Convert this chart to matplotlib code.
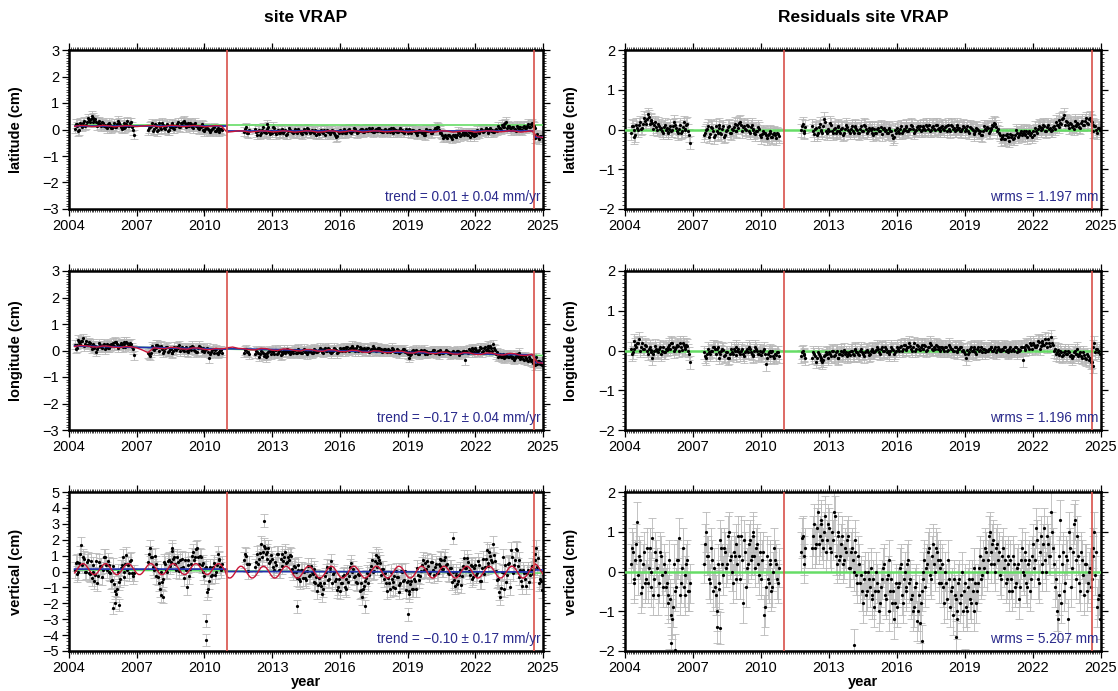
import numpy as np
import matplotlib
matplotlib.use("Agg")
import matplotlib.pyplot as plt
from matplotlib.ticker import MultipleLocator

nan = np.nan
plt.rcParams['font.family'] = ['Liberation Sans', 'DejaVu Sans']

# ---------------- data: two samples per month, one row per year 2004..2024, cm ----------------
lat_data = [
    [nan, nan, nan, 0.22, 0.12, -0.02, 0.18, 0.25, 0.15, 0.28, 0.35, 0.40],
    [0.45, 0.35, 0.30, 0.25, 0.20, 0.28, 0.15, 0.10, 0.20, 0.12, 0.05, 0.15],
    [0.10, 0.22, 0.25, 0.08, 0.15, 0.05, 0.20, 0.12, 0.25, 0.10, -0.20, nan],
    [nan, nan, nan, nan, nan, nan, 0.05, 0.15, -0.05, 0.20, 0.10, 0.00],
    [0.10, 0.25, 0.05, 0.15, -0.05, 0.10, 0.20, 0.05, 0.15, 0.20, 0.10, 0.25],
    [0.30, 0.25, 0.20, 0.15, 0.25, 0.10, 0.20, 0.15, 0.05, 0.10, 0.20, 0.00],
    [0.02, 0.05, -0.02, 0.00, 0.05, -0.05, 0.02, 0.00, 0.03, -0.03, nan, nan],
    [nan, nan, nan, nan, nan, nan, nan, nan, nan, 0.02, -0.12, 0.00],
    [nan, nan, nan, -0.10, -0.05, -0.20, 0.00, -0.10, -0.15, 0.20, -0.10, -0.05],
    [0.10, -0.10, -0.05, -0.15, 0.00, -0.10, -0.05, -0.20, -0.05, 0.00, -0.10, -0.05],
    [-0.10, 0.00, -0.05, -0.15, -0.05, -0.10, 0.05, -0.05, -0.10, -0.05, -0.15, -0.20],
    [-0.15, -0.05, -0.10, 0.00, -0.05, -0.10, -0.15, -0.05, -0.10, -0.20, -0.25, -0.15],
    [-0.10, -0.05, -0.15, -0.05, 0.00, -0.10, -0.05, 0.05, -0.05, -0.10, 0.00, -0.05],
    [-0.10, 0.00, -0.05, 0.05, -0.05, -0.10, 0.00, -0.05, 0.05, -0.05, -0.10, 0.00],
    [-0.05, 0.00, -0.10, -0.05, 0.05, -0.05, -0.10, 0.00, -0.05, -0.10, -0.05, 0.00],
    [-0.05, -0.10, 0.00, -0.05, -0.15, -0.10, -0.05, -0.15, -0.20, -0.10, -0.05, 0.00],
    [-0.15, -0.05, 0.05, 0.10, 0.00, -0.05, -0.20, -0.25, -0.30, -0.20, -0.25, -0.35],
    [-0.25, -0.30, -0.20, -0.15, -0.20, -0.10, -0.15, -0.20, -0.10, -0.15, -0.20, -0.25],
    [-0.20, -0.10, -0.05, 0.00, -0.05, 0.05, -0.10, 0.00, -0.05, -0.10, 0.00, -0.05],
    [0.05, 0.00, 0.10, 0.20, 0.30, 0.15, 0.05, 0.10, 0.00, -0.05, 0.05, 0.10],
    [0.00, 0.10, 0.05, 0.15, 0.10, 0.20, 0.15, 0.05, -0.20, -0.30, -0.25, -0.30],
]
lat_data_b = [
    [nan, nan, nan, 0.03, 0.21, -0.07, 0.25, 0.11, 0.31, 0.18, 0.43, 0.28],
    [0.51, 0.28, 0.38, 0.15, 0.31, 0.13, 0.23, 0.18, 0.05, 0.25, 0.16, 0.07],
    [0.23, 0.11, 0.33, 0.18, 0.03, 0.25, 0.08, 0.31, 0.15, 0.28, -0.02, nan],
    [nan, nan, nan, nan, nan, nan, -0.02, 0.11, 0.23, 0.01, 0.18, -0.07],
    [0.23, 0.03, 0.18, 0.01, 0.21, -0.02, 0.11, 0.23, 0.03, 0.13, 0.28, 0.08],
    [0.18, 0.33, 0.08, 0.23, 0.13, 0.21, 0.05, 0.25, 0.13, 0.01, 0.08, 0.15],
    [-0.07, 0.08, 0.03, -0.09, 0.01, 0.08, -0.07, 0.05, -0.09, 0.01, nan, nan],
    [nan, nan, nan, nan, nan, nan, nan, nan, nan, -0.09, 0.08, -0.15],
    [nan, nan, nan, 0.03, -0.19, -0.02, -0.15, 0.08, -0.07, 0.03, 0.11, -0.17],
    [-0.12, 0.05, -0.17, -0.02, -0.12, 0.03, -0.15, -0.02, -0.17, 0.05, -0.07, -0.15],
    [0.01, -0.15, 0.03, -0.07, -0.17, 0.01, -0.12, 0.03, -0.15, -0.02, -0.09, -0.02],
    [-0.05, -0.17, -0.02, -0.12, -0.19, -0.02, -0.07, -0.17, -0.02, -0.12, -0.29, -0.07],
    [-0.02, -0.15, 0.01, -0.12, -0.07, 0.03, -0.12, -0.05, 0.03, -0.15, -0.07, 0.01],
    [0.01, -0.09, 0.03, -0.07, 0.01, 0.05, -0.09, 0.03, -0.07, 0.05, -0.02, -0.09],
    [0.03, -0.09, 0.01, 0.05, -0.12, 0.03, -0.02, -0.09, 0.05, -0.02, -0.12, 0.03],
    [-0.12, 0.01, -0.15, -0.02, -0.07, -0.19, -0.02, -0.09, -0.12, -0.22, 0.01, -0.07],
    [-0.02, -0.12, -0.02, 0.01, 0.08, -0.12, -0.15, -0.32, -0.22, -0.32, -0.19, -0.27],
    [-0.19, -0.22, -0.29, -0.09, -0.25, -0.17, -0.22, -0.12, -0.19, -0.27, -0.12, -0.17],
    [-0.12, -0.02, -0.15, 0.03, -0.09, -0.02, 0.03, -0.12, 0.05, -0.02, -0.09, 0.03],
    [0.13, 0.05, 0.18, 0.08, 0.23, 0.05, 0.13, -0.02, 0.08, 0.03, 0.15, 0.01],
    [0.08, -0.02, 0.15, 0.05, 0.21, 0.08, 0.23, 0.13, -0.33, -0.18, -0.36, -0.23],
]
lat_res = [
    [nan, nan, nan, 0.09, -0.01, -0.15, 0.05, 0.12, 0.02, 0.15, 0.22, 0.27],
    [0.32, 0.22, 0.17, 0.12, 0.07, 0.15, 0.02, -0.03, 0.07, -0.01, -0.08, 0.02],
    [-0.03, 0.09, 0.12, -0.05, 0.02, -0.08, 0.07, -0.01, 0.12, -0.03, -0.33, nan],
    [nan, nan, nan, nan, nan, nan, -0.08, 0.02, -0.18, 0.07, -0.03, -0.13],
    [-0.03, 0.12, -0.08, 0.02, -0.18, -0.03, 0.07, -0.08, 0.02, 0.07, -0.03, 0.12],
    [0.17, 0.12, 0.07, 0.02, 0.12, -0.03, 0.07, 0.02, -0.08, -0.03, 0.07, -0.13],
    [-0.11, -0.08, -0.15, -0.13, -0.08, -0.18, -0.11, -0.13, -0.10, -0.16, nan, nan],
    [nan, nan, nan, nan, nan, nan, nan, nan, nan, 0.09, -0.05, 0.07],
    [nan, nan, nan, -0.03, 0.02, -0.13, 0.07, -0.03, -0.08, 0.27, -0.03, 0.02],
    [0.17, -0.03, 0.02, -0.08, 0.07, -0.03, 0.02, -0.13, 0.02, 0.07, -0.03, 0.02],
    [-0.03, 0.07, 0.02, -0.08, 0.02, -0.03, 0.12, 0.02, -0.03, 0.02, -0.08, -0.13],
    [-0.08, 0.02, -0.03, 0.07, 0.02, -0.03, -0.08, 0.02, -0.03, -0.13, -0.18, -0.08],
    [-0.03, 0.02, -0.08, 0.02, 0.07, -0.03, 0.02, 0.12, 0.02, -0.03, 0.07, 0.02],
    [-0.03, 0.07, 0.02, 0.12, 0.02, -0.03, 0.07, 0.02, 0.12, 0.02, -0.03, 0.07],
    [0.02, 0.07, -0.03, 0.02, 0.12, 0.02, -0.03, 0.07, 0.02, -0.03, 0.02, 0.07],
    [0.02, -0.03, 0.07, 0.02, -0.08, -0.03, 0.02, -0.08, -0.13, -0.03, 0.02, 0.07],
    [-0.08, 0.02, 0.12, 0.17, 0.07, 0.02, -0.13, -0.18, -0.23, -0.13, -0.18, -0.28],
    [-0.18, -0.23, -0.13, -0.08, -0.13, -0.03, -0.08, -0.13, -0.03, -0.08, -0.13, -0.18],
    [-0.13, -0.03, 0.02, 0.07, 0.02, 0.12, -0.03, 0.07, 0.02, -0.03, 0.07, 0.02],
    [0.12, 0.07, 0.17, 0.27, 0.37, 0.22, 0.12, 0.17, 0.07, 0.02, 0.12, 0.17],
    [0.07, 0.17, 0.12, 0.22, 0.17, 0.27, 0.22, 0.12, 0.08, -0.02, 0.03, -0.02],
]
lat_res_b = [
    [nan, nan, nan, -0.10, 0.08, -0.20, 0.12, -0.02, 0.18, 0.05, 0.30, 0.15],
    [0.38, 0.15, 0.25, 0.02, 0.18, 0.00, 0.10, 0.05, -0.08, 0.12, 0.03, -0.06],
    [0.10, -0.02, 0.20, 0.05, -0.10, 0.12, -0.05, 0.18, 0.02, 0.15, -0.15, nan],
    [nan, nan, nan, nan, nan, nan, -0.15, -0.02, 0.10, -0.12, 0.05, -0.20],
    [0.10, -0.10, 0.05, -0.12, 0.08, -0.15, -0.02, 0.10, -0.10, 0.00, 0.15, -0.05],
    [0.05, 0.20, -0.05, 0.10, 0.00, 0.08, -0.08, 0.12, 0.00, -0.12, -0.05, 0.02],
    [-0.20, -0.05, -0.10, -0.22, -0.12, -0.05, -0.20, -0.08, -0.22, -0.12, nan, nan],
    [nan, nan, nan, nan, nan, nan, nan, nan, nan, -0.02, 0.15, -0.08],
    [nan, nan, nan, 0.10, -0.12, 0.05, -0.08, 0.15, 0.00, 0.10, 0.18, -0.10],
    [-0.05, 0.12, -0.10, 0.05, -0.05, 0.10, -0.08, 0.05, -0.10, 0.12, 0.00, -0.08],
    [0.08, -0.08, 0.10, 0.00, -0.10, 0.08, -0.05, 0.10, -0.08, 0.05, -0.02, 0.05],
    [0.02, -0.10, 0.05, -0.05, -0.12, 0.05, 0.00, -0.10, 0.05, -0.05, -0.22, 0.00],
    [0.05, -0.08, 0.08, -0.05, 0.00, 0.10, -0.05, 0.02, 0.10, -0.08, 0.00, 0.08],
    [0.08, -0.02, 0.10, 0.00, 0.08, 0.12, -0.02, 0.10, 0.00, 0.12, 0.05, -0.02],
    [0.10, -0.02, 0.08, 0.12, -0.05, 0.10, 0.05, -0.02, 0.12, 0.05, -0.05, 0.10],
    [-0.05, 0.08, -0.08, 0.05, 0.00, -0.12, 0.05, -0.02, -0.05, -0.15, 0.08, 0.00],
    [0.05, -0.05, 0.05, 0.08, 0.15, -0.05, -0.08, -0.25, -0.15, -0.25, -0.12, -0.20],
    [-0.12, -0.15, -0.22, -0.02, -0.18, -0.10, -0.15, -0.05, -0.12, -0.20, -0.05, -0.10],
    [-0.05, 0.05, -0.08, 0.10, -0.02, 0.05, 0.10, -0.05, 0.12, 0.05, -0.02, 0.10],
    [0.20, 0.12, 0.25, 0.15, 0.30, 0.12, 0.20, 0.05, 0.15, 0.10, 0.22, 0.08],
    [0.15, 0.05, 0.22, 0.12, 0.28, 0.15, 0.30, 0.20, -0.05, 0.10, -0.08, 0.05],
]
lon_data = [
    [nan, nan, nan, 0.06, 0.21, 0.31, 0.36, 0.46, 0.26, 0.21, 0.31, 0.16],
    [0.20, 0.10, -0.05, 0.15, 0.20, 0.10, 0.25, 0.15, 0.10, 0.20, 0.25, 0.30],
    [0.33, 0.23, 0.18, 0.28, 0.13, 0.23, 0.33, 0.18, 0.28, 0.13, -0.17, nan],
    [nan, nan, nan, nan, nan, nan, -0.14, -0.09, 0.06, 0.11, 0.21, 0.16],
    [0.15, 0.05, 0.00, 0.15, -0.05, 0.05, -0.10, 0.00, 0.05, 0.15, 0.20, 0.10],
    [0.03, 0.08, -0.02, 0.03, 0.13, 0.18, 0.03, -0.07, 0.08, 0.13, -0.02, 0.08],
    [0.01, 0.11, -0.29, -0.04, 0.06, 0.01, -0.09, -0.04, 0.01, -0.09, nan, nan],
    [nan, nan, nan, nan, nan, nan, nan, nan, nan, 0.01, -0.04, -0.14],
    [nan, nan, nan, 0.00, -0.10, -0.15, -0.05, -0.20, -0.25, -0.10, 0.00, -0.15],
    [-0.07, 0.03, -0.12, -0.02, -0.17, -0.07, 0.03, -0.02, -0.07, -0.12, -0.02, 0.03],
    [-0.09, 0.06, -0.04, -0.09, 0.01, -0.04, -0.14, 0.01, -0.04, -0.09, 0.06, -0.04],
    [0.00, 0.10, -0.05, 0.05, 0.00, 0.10, -0.05, -0.10, 0.00, 0.05, -0.10, 0.00],
    [0.03, 0.08, -0.02, 0.13, 0.03, 0.08, 0.18, 0.03, 0.08, -0.02, 0.13, 0.03],
    [0.06, 0.01, 0.11, -0.04, 0.06, 0.16, 0.01, 0.06, 0.11, 0.01, -0.04, 0.06],
    [0.00, 0.05, -0.05, 0.10, 0.00, -0.05, 0.05, -0.10, 0.00, 0.05, -0.05, -0.10],
    [-0.27, -0.17, -0.02, -0.07, 0.03, -0.12, -0.02, -0.07, 0.03, -0.02, -0.12, -0.07],
    [-0.04, 0.01, -0.09, -0.04, -0.14, 0.01, -0.09, -0.04, 0.01, -0.09, -0.14, -0.04],
    [-0.11, -0.06, -0.01, -0.16, -0.11, -0.01, -0.36, -0.06, 0.04, -0.01, 0.09, -0.06],
    [0.03, -0.02, 0.13, -0.07, 0.08, 0.03, 0.18, -0.02, 0.08, 0.23, 0.03, -0.07],
    [-0.19, -0.24, -0.14, -0.29, -0.19, -0.24, -0.14, -0.29, -0.34, -0.19, -0.24, -0.09],
    [-0.26, -0.31, -0.21, -0.36, -0.26, -0.41, -0.46, -0.56, -0.25, -0.40, -0.50, -0.55],
]
lon_data_b = [
    [nan, nan, nan, 0.21, 0.11, 0.41, 0.26, 0.34, 0.16, 0.36, 0.21, 0.28],
    [0.07, 0.25, 0.17, 0.05, 0.27, 0.13, 0.20, 0.05, 0.23, 0.10, 0.17, 0.20],
    [0.18, 0.31, 0.11, 0.21, 0.25, 0.33, 0.15, 0.28, 0.21, 0.25, 0.05, nan],
    [nan, nan, nan, nan, nan, nan, -0.10, -0.20, 0.16, 0.01, 0.09, 0.21],
    [0.00, 0.18, -0.08, 0.08, 0.12, -0.02, 0.05, -0.08, 0.15, 0.02, 0.10, -0.02],
    [0.13, -0.02, 0.13, -0.07, 0.06, 0.03, 0.13, 0.00, -0.04, 0.18, 0.08, 0.00],
    [-0.06, 0.04, -0.04, -0.12, 0.01, -0.09, 0.04, -0.12, -0.06, 0.01, nan, nan],
    [nan, nan, nan, nan, nan, nan, nan, nan, nan, -0.09, 0.04, -0.06],
    [nan, nan, nan, -0.13, -0.05, -0.23, 0.00, -0.10, -0.15, -0.20, -0.07, -0.03],
    [-0.02, -0.12, 0.01, -0.09, 0.03, -0.15, -0.05, -0.09, 0.05, -0.02, -0.07, -0.09],
    [0.01, -0.11, 0.03, -0.04, -0.11, 0.06, -0.07, -0.04, 0.03, -0.11, -0.01, 0.03],
    [-0.05, 0.02, 0.05, -0.08, 0.08, -0.02, 0.05, 0.00, -0.05, 0.10, 0.02, -0.05],
    [0.08, -0.02, 0.10, 0.03, 0.13, 0.00, 0.08, 0.10, -0.02, 0.16, 0.03, 0.10],
    [-0.02, 0.11, 0.01, 0.08, -0.02, 0.04, 0.11, -0.02, 0.01, 0.08, 0.04, -0.02],
    [0.05, -0.05, 0.03, -0.03, 0.05, 0.00, -0.07, 0.03, -0.05, 0.00, 0.05, -0.03],
    [-0.15, -0.05, -0.12, 0.01, -0.09, -0.02, -0.15, 0.01, -0.05, -0.12, -0.02, -0.05],
    [-0.09, -0.04, 0.01, -0.11, -0.01, -0.07, -0.04, -0.09, -0.07, -0.01, -0.07, -0.11],
    [-0.03, -0.09, -0.11, -0.03, -0.06, -0.09, -0.03, -0.01, -0.09, 0.01, -0.06, 0.04],
    [0.08, -0.04, 0.03, 0.10, 0.00, 0.13, 0.03, 0.08, 0.16, 0.00, 0.08, -0.14],
    [-0.24, -0.12, -0.26, -0.19, -0.26, -0.14, -0.24, -0.19, -0.26, -0.29, -0.14, -0.22],
    [-0.31, -0.21, -0.34, -0.28, -0.38, -0.31, -0.36, -0.44, -0.35, -0.50, -0.40, -0.45],
]
lon_res = [
    [nan, nan, nan, -0.10, 0.05, 0.15, 0.20, 0.30, 0.10, 0.05, 0.15, 0.00],
    [0.05, -0.05, -0.20, 0.00, 0.05, -0.05, 0.10, 0.00, -0.05, 0.05, 0.10, 0.15],
    [0.20, 0.10, 0.05, 0.15, 0.00, 0.10, 0.20, 0.05, 0.15, 0.00, -0.30, nan],
    [nan, nan, nan, nan, nan, nan, -0.15, -0.10, -0.05, 0.00, 0.10, 0.05],
    [0.05, -0.05, -0.10, 0.05, -0.15, -0.05, -0.20, -0.10, -0.05, 0.05, 0.10, 0.00],
    [-0.05, 0.00, -0.10, -0.05, 0.05, 0.10, -0.05, -0.15, 0.00, 0.05, -0.10, 0.00],
    [-0.05, 0.05, -0.35, -0.10, 0.00, -0.05, -0.15, -0.10, -0.05, -0.15, nan, nan],
    [nan, nan, nan, nan, nan, nan, nan, nan, nan, -0.05, -0.10, -0.20],
    [nan, nan, nan, -0.05, -0.15, -0.20, -0.10, -0.25, -0.30, -0.15, -0.05, -0.20],
    [-0.10, 0.00, -0.15, -0.05, -0.20, -0.10, 0.00, -0.05, -0.10, -0.15, -0.05, 0.00],
    [-0.10, 0.05, -0.05, -0.10, 0.00, -0.05, -0.15, 0.00, -0.05, -0.10, 0.05, -0.05],
    [0.00, 0.10, -0.05, 0.05, 0.00, 0.10, -0.05, -0.10, 0.00, 0.05, -0.10, 0.00],
    [0.05, 0.10, 0.00, 0.15, 0.05, 0.10, 0.20, 0.05, 0.10, 0.00, 0.15, 0.05],
    [0.10, 0.05, 0.15, 0.00, 0.10, 0.20, 0.05, 0.10, 0.15, 0.05, 0.00, 0.10],
    [0.05, 0.10, 0.00, 0.15, 0.05, 0.00, 0.10, -0.05, 0.05, 0.10, 0.00, -0.05],
    [-0.20, -0.10, 0.05, 0.00, 0.10, -0.05, 0.05, 0.00, 0.10, 0.05, -0.05, 0.00],
    [0.05, 0.10, 0.00, 0.05, -0.05, 0.10, 0.00, 0.05, 0.10, 0.00, -0.05, 0.05],
    [0.00, 0.05, 0.10, -0.05, 0.00, 0.10, -0.25, 0.05, 0.15, 0.10, 0.20, 0.05],
    [0.15, 0.10, 0.25, 0.05, 0.20, 0.15, 0.30, 0.10, 0.20, 0.35, 0.15, 0.05],
    [-0.05, -0.10, 0.00, -0.15, -0.05, -0.10, 0.00, -0.15, -0.20, -0.05, -0.10, 0.05],
    [-0.10, -0.15, -0.05, -0.20, -0.10, -0.25, -0.30, -0.40, 0.20, 0.05, -0.05, -0.10],
]
lon_res_b = [
    [nan, nan, nan, 0.05, -0.05, 0.25, 0.10, 0.18, 0.00, 0.20, 0.05, 0.12],
    [-0.08, 0.10, 0.02, -0.10, 0.12, -0.02, 0.05, -0.10, 0.08, -0.05, 0.02, 0.05],
    [0.05, 0.18, -0.02, 0.08, 0.12, 0.20, 0.02, 0.15, 0.08, 0.12, -0.08, nan],
    [nan, nan, nan, nan, nan, nan, -0.05, -0.20, 0.05, -0.10, -0.02, 0.10],
    [-0.10, 0.08, -0.18, -0.02, 0.02, -0.12, -0.05, -0.18, 0.05, -0.08, 0.00, -0.12],
    [0.05, -0.10, 0.05, -0.15, -0.02, -0.05, 0.05, -0.08, -0.12, 0.10, 0.00, -0.08],
    [-0.12, -0.02, -0.10, -0.18, -0.05, -0.15, -0.02, -0.18, -0.12, -0.05, nan, nan],
    [nan, nan, nan, nan, nan, nan, nan, nan, nan, -0.15, -0.02, -0.12],
    [nan, nan, nan, -0.18, -0.10, -0.28, -0.05, -0.15, -0.20, -0.25, -0.12, -0.08],
    [-0.05, -0.15, -0.02, -0.12, 0.00, -0.18, -0.08, -0.12, 0.02, -0.05, -0.10, -0.12],
    [0.00, -0.12, 0.02, -0.05, -0.12, 0.05, -0.08, -0.05, 0.02, -0.12, -0.02, 0.02],
    [-0.05, 0.02, 0.05, -0.08, 0.08, -0.02, 0.05, 0.00, -0.05, 0.10, 0.02, -0.05],
    [0.10, 0.00, 0.12, 0.05, 0.15, 0.02, 0.10, 0.12, 0.00, 0.18, 0.05, 0.12],
    [0.02, 0.15, 0.05, 0.12, 0.02, 0.08, 0.15, 0.02, 0.05, 0.12, 0.08, 0.02],
    [0.10, 0.00, 0.08, 0.02, 0.10, 0.05, -0.02, 0.08, 0.00, 0.05, 0.10, 0.02],
    [-0.08, 0.02, -0.05, 0.08, -0.02, 0.05, -0.08, 0.08, 0.02, -0.05, 0.05, 0.02],
    [0.00, 0.05, 0.10, -0.02, 0.08, 0.02, 0.05, 0.00, 0.02, 0.08, 0.02, -0.02],
    [0.08, 0.02, 0.00, 0.08, 0.05, 0.02, 0.08, 0.10, 0.02, 0.12, 0.05, 0.15],
    [0.20, 0.08, 0.15, 0.22, 0.12, 0.25, 0.15, 0.20, 0.28, 0.12, 0.20, -0.02],
    [-0.10, 0.02, -0.12, -0.05, -0.12, 0.00, -0.10, -0.05, -0.12, -0.15, 0.00, -0.08],
    [-0.15, -0.05, -0.18, -0.12, -0.22, -0.15, -0.20, -0.28, 0.10, -0.05, 0.05, 0.00],
]
up_data = [
    [nan, nan, nan, 0.51, -0.13, 0.55, 1.66, 0.89, -0.06, 0.59, -0.07, 0.65],
    [-0.01, -0.59, 0.66, -0.29, 0.37, -0.35, 0.91, 0.39, 0.69, -0.01, -0.57, 0.35],
    [-1.21, -1.09, -0.69, 0.21, 0.92, -0.05, 1.01, 0.39, 0.69, -0.11, -0.07, nan],
    [nan, nan, nan, nan, nan, nan, 1.11, 0.89, 0.29, 0.99, -0.27, -0.35],
    [-1.11, -0.64, 0.61, 0.11, 0.67, 0.35, 1.31, 0.79, 0.49, 0.89, 0.03, 0.25],
    [0.29, 0.71, -0.99, 0.41, 0.17, 0.95, 0.71, 1.39, 0.89, 0.99, 0.43, 0.55],
    [0.19, -1.29, -0.59, -0.29, 0.27, -0.25, 0.41, 0.79, 0.29, 0.49, nan, nan],
    [nan, nan, nan, nan, nan, nan, nan, nan, nan, 1.07, 0.45, 0.45],
    [nan, nan, nan, 0.60, 0.47, 1.17, 0.94, 1.63, 1.12, 1.22, 0.55, 1.05],
    [0.28, 0.59, 1.10, 0.10, 0.77, 0.37, 0.94, 0.53, 0.92, 1.02, 0.15, 0.35],
    [-0.02, 0.39, -0.50, 0.10, -0.43, -0.43, 0.04, -0.27, 0.32, -0.18, -0.65, -0.35],
    [-0.82, -0.71, -1.40, -0.70, -0.03, -0.53, 0.04, 0.63, -0.18, -0.58, -1.15, -0.45],
    [-0.72, -0.31, -1.00, -0.50, -0.63, 0.27, -0.06, -0.37, -0.68, -0.18, -1.20, -0.75],
    [-1.12, -0.61, -0.10, -0.20, 0.37, -0.03, 0.64, 0.53, 0.92, 0.52, 0.15, -0.45],
    [-0.72, -0.41, -1.10, -0.50, -0.63, -1.03, -0.36, -0.87, 0.02, -0.58, 0.05, -0.65],
    [-1.22, -0.81, -1.10, -0.50, -1.13, -0.23, -0.26, 0.43, 0.12, 0.52, 0.65, -0.15],
    [0.58, 0.09, 0.30, -0.10, 0.47, 0.37, 0.14, 0.73, 0.42, -0.08, 0.25, -0.65],
    [-0.52, -0.01, -0.80, -0.20, -0.83, 0.37, 0.24, 0.83, 0.02, 0.42, -0.45, 0.25],
    [-0.22, 0.69, -0.60, 0.20, -0.13, 0.77, 0.54, 1.23, 0.72, 1.72, 0.65, -0.55],
    [-1.32, -1.01, 0.90, -0.10, -0.63, 0.47, -0.96, 0.93, 0.42, 1.42, 0.35, 0.75],
    [-0.62, 0.09, -0.50, -0.10, -0.63, 0.07, -0.16, 0.73, 1.48, 0.88, -0.49, -1.19],
]
up_data_b = [
    [nan, nan, nan, 0.10, 0.60, -0.05, 1.10, 0.40, 0.80, 0.00, 0.70, -0.15],
    [-0.40, 0.40, -0.20, -0.70, 0.60, 0.35, 0.10, 0.90, 0.10, 0.40, -0.10, -0.55],
    [-0.80, -1.40, 0.00, -0.50, 0.40, -0.35, 0.50, 0.10, -0.10, 0.70, -0.30, nan],
    [nan, nan, nan, nan, nan, nan, 0.60, 1.50, 0.90, 0.10, 0.50, 0.15],
    [-0.70, 0.00, -0.50, 0.50, 0.00, 0.75, 0.60, 1.50, 0.90, 0.10, 0.60, 0.75],
    [0.80, -0.40, 0.10, 0.70, -0.30, 0.45, 1.20, 0.90, 1.50, 0.50, 0.90, -0.05],
    [-0.30, 0.30, -1.10, 0.30, -0.20, 0.55, 0.00, 1.10, 0.70, 0.10, nan, nan],
    [nan, nan, nan, nan, nan, nan, nan, nan, nan, 0.70, 0.95, 0.05],
    [nan, nan, nan, 0.30, 1.10, 0.80, 1.75, 1.25, 1.50, 0.80, 1.45, 0.65],
    [0.80, 0.10, 0.40, 1.10, 0.10, 1.10, 0.65, 1.25, 0.60, 0.70, 0.95, -0.05],
    [0.30, -0.40, 0.10, -0.60, 0.10, 0.00, -0.55, 0.35, -0.20, 0.00, 0.15, -0.75],
    [-1.20, -0.40, -0.90, -1.10, -0.30, 0.30, -0.45, 0.25, -0.70, 0.00, -0.45, -0.95],
    [-1.20, -0.70, -0.20, -1.10, -0.10, -0.30, 0.55, 0.15, -0.30, -0.70, -0.25, -1.15],
    [-1.60, -0.90, -0.40, -0.70, 0.10, 0.70, 0.05, 1.05, 0.30, 0.70, -0.25, 0.15],
    [-0.10, -1.20, -0.70, 0.00, -1.00, -0.30, 0.05, -0.35, -0.70, 0.00, -0.55, -1.15],
    [-0.60, -1.40, -0.60, -1.10, -0.60, 0.20, -0.55, 0.05, 0.70, 0.10, 0.15, 0.35],
    [0.00, 0.60, -0.20, 0.50, -0.10, 0.80, 0.75, 0.15, 0.90, 0.50, -0.15, 0.25],
    [0.00, -0.90, -0.20, -0.60, 0.10, -0.30, 0.85, 0.25, 0.60, -0.20, 0.35, -0.35],
    [0.40, -0.10, 0.40, -0.60, 0.80, 0.30, 1.35, 0.35, 1.00, 0.60, 1.05, 0.05],
    [-0.50, -1.60, 0.00, -1.10, 0.40, -0.20, 0.55, 1.35, -0.10, 0.70, 1.35, -0.35],
    [0.10, -0.90, -0.10, -0.90, 0.10, -0.20, 0.35, 0.15, 1.10, 0.30, -0.70, -0.60],
]
up_res = [
    [nan, nan, nan, 0.60, -0.20, 0.30, 1.25, 0.40, -0.55, 0.20, -0.30, 0.60],
    [0.10, -0.40, 0.85, -0.20, 0.30, -0.60, 0.50, -0.10, 0.20, -0.40, -0.80, 0.30],
    [-1.10, -0.90, -0.50, 0.30, 0.85, -0.30, 0.60, -0.10, 0.20, -0.50, -0.30, nan],
    [nan, nan, nan, nan, nan, nan, 0.70, 0.40, -0.20, 0.60, -0.50, -0.40],
    [-1.00, -0.45, 0.80, 0.20, 0.60, 0.10, 0.90, 0.30, 0.00, 0.50, -0.20, 0.20],
    [0.40, 0.90, -0.80, 0.50, 0.10, 0.70, 0.30, 0.90, 0.40, 0.60, 0.20, 0.50],
    [0.30, -1.10, -0.40, -0.20, 0.20, -0.50, 0.00, 0.30, -0.20, 0.10, nan, nan],
    [nan, nan, nan, nan, nan, nan, nan, nan, nan, 0.85, 0.40, 0.60],
    [nan, nan, nan, 0.90, 0.60, 1.10, 0.70, 1.30, 0.80, 1.00, 0.50, 1.20],
    [0.60, 1.00, 1.50, 0.40, 0.90, 0.30, 0.70, 0.20, 0.60, 0.80, 0.10, 0.50],
    [0.30, 0.80, -0.10, 0.40, -0.30, -0.50, -0.20, -0.60, 0.00, -0.40, -0.70, -0.20],
    [-0.50, -0.30, -1.00, -0.40, 0.10, -0.60, -0.20, 0.30, -0.50, -0.80, -1.20, -0.30],
    [-0.40, 0.10, -0.60, -0.20, -0.50, 0.20, -0.30, -0.70, -1.00, -0.40, -1.25, -0.60],
    [-0.80, -0.20, 0.30, 0.10, 0.50, -0.10, 0.40, 0.20, 0.60, 0.30, 0.10, -0.30],
    [-0.40, 0.00, -0.70, -0.20, -0.50, -1.10, -0.60, -1.20, -0.30, -0.80, 0.00, -0.50],
    [-0.90, -0.40, -0.70, -0.20, -1.00, -0.30, -0.50, 0.10, -0.20, 0.30, 0.60, 0.00],
    [0.90, 0.50, 0.70, 0.20, 0.60, 0.30, -0.10, 0.40, 0.10, -0.30, 0.20, -0.50],
    [-0.20, 0.40, -0.40, 0.10, -0.70, 0.30, 0.00, 0.50, -0.30, 0.20, -0.50, 0.40],
    [0.10, 1.10, -0.20, 0.50, 0.00, 0.70, 0.30, 0.90, 0.40, 1.50, 0.60, -0.40],
    [-1.00, -0.60, 1.30, 0.20, -0.50, 0.40, -1.20, 0.60, 0.10, 1.20, 0.30, 0.90],
    [-0.30, 0.50, -0.10, 0.20, -0.50, 0.00, -0.40, 0.40, 1.00, 0.50, -0.70, -1.20],
]
up_res_b = [
    [nan, nan, nan, 0.20, 0.50, -0.30, 0.70, -0.10, 0.30, -0.40, 0.50, -0.20],
    [-0.30, 0.60, 0.00, -0.60, 0.50, 0.10, -0.30, 0.40, -0.40, 0.00, -0.30, -0.60],
    [-0.70, -1.20, 0.20, -0.40, 0.30, -0.60, 0.10, -0.40, -0.60, 0.30, -0.50, nan],
    [nan, nan, nan, nan, nan, nan, 0.20, 1.00, 0.40, -0.30, 0.30, 0.10],
    [-0.60, 0.20, -0.30, 0.60, -0.10, 0.50, 0.20, 1.00, 0.40, -0.30, 0.40, 0.70],
    [0.90, -0.20, 0.30, 0.80, -0.40, 0.20, 0.80, 0.40, 1.00, 0.10, 0.70, -0.10],
    [-0.20, 0.50, -0.90, 0.40, -0.30, 0.30, -0.40, 0.60, 0.20, -0.30, nan, nan],
    [nan, nan, nan, nan, nan, nan, nan, nan, nan, 0.50, 0.90, 0.20],
    [nan, nan, nan, 0.60, 1.20, 0.70, 1.50, 0.90, 1.20, 0.60, 1.40, 0.80],
    [1.10, 0.50, 0.80, 1.40, 0.20, 1.00, 0.40, 0.90, 0.30, 0.50, 0.90, 0.10],
    [0.60, 0.00, 0.50, -0.30, 0.20, -0.10, -0.80, 0.00, -0.50, -0.20, 0.10, -0.60],
    [-0.90, 0.00, -0.50, -0.80, -0.20, 0.20, -0.70, -0.10, -1.00, -0.20, -0.50, -0.80],
    [-0.90, -0.30, 0.20, -0.80, 0.00, -0.40, 0.30, -0.20, -0.60, -0.90, -0.30, -1.00],
    [-1.30, -0.50, 0.00, -0.40, 0.20, 0.60, -0.20, 0.70, 0.00, 0.50, -0.30, 0.30],
    [0.20, -0.80, -0.30, 0.30, -0.90, -0.40, -0.20, -0.70, -1.00, -0.20, -0.60, -1.00],
    [-0.30, -1.00, -0.20, -0.80, -0.50, 0.10, -0.80, -0.30, 0.40, -0.10, 0.10, 0.50],
    [0.30, 1.00, 0.20, 0.80, 0.00, 0.70, 0.50, -0.20, 0.60, 0.30, -0.20, 0.40],
    [0.30, -0.50, 0.20, -0.30, 0.20, -0.40, 0.60, -0.10, 0.30, -0.40, 0.30, -0.20],
    [0.70, 0.30, 0.80, -0.30, 0.90, 0.20, 1.10, 0.00, 0.70, 0.40, 1.00, 0.20],
    [-0.20, -1.20, 0.40, -0.80, 0.50, -0.30, 0.30, 1.00, -0.40, 0.50, 1.30, -0.20],
    [0.40, -0.50, 0.30, -0.60, 0.20, -0.30, 0.10, -0.20, 0.60, -0.10, -0.90, -0.60],
]
# isolated vertical outliers (epoch, data value, residual value)
up_out_t = [2005.95, 2006.05, 2006.22, 2008.08, 2008.17, 2010.05, 2010.08, 2012.62,
            2014.12, 2017.12, 2018.62, 2019.02, 2021.00]
up_out_data = [-2.30, -1.95, -2.10, -1.50, -1.60, -3.10, -4.30, 3.20,
               -2.20, -2.20, -1.30, -2.70, 2.10]
up_out_res = [-2.35, -1.80, -1.98, -1.40, -1.42, -3.00, -4.20, 2.90,
              -1.85, -1.75, -1.65, -2.35, 2.40]

sig_lat, sig_lon, sig_up = 0.17, 0.17, 0.5

# ---------------- fitted model (red) ----------------
# lat / lon: quarterly (Jan, Apr, Jul, Oct) 2004..2024 plus 2025.0
lat_model = [
    [nan, 0.12, 0.15, 0.15], [0.11, 0.12, 0.16, 0.14], [0.10, 0.12, 0.15, 0.14],
    [0.11, 0.13, 0.15, 0.14], [0.10, 0.12, 0.16, 0.15], [0.11, 0.12, 0.15, 0.14],
    [0.10, 0.12, 0.15, 0.13], [-0.10, -0.08, -0.05, -0.06], [-0.10, -0.08, -0.05, -0.06],
    [-0.09, -0.08, -0.05, -0.07], [-0.10, -0.08, -0.05, -0.06], [-0.10, -0.09, -0.05, -0.06],
    [-0.10, -0.08, -0.04, -0.06], [-0.10, -0.08, -0.05, -0.06], [-0.09, -0.08, -0.05, -0.07],
    [-0.10, -0.08, -0.05, -0.06], [-0.10, -0.09, -0.05, -0.06], [-0.10, -0.08, -0.05, -0.06],
    [-0.10, -0.08, -0.05, -0.06], [-0.09, -0.08, -0.05, -0.06], [-0.10, -0.08, -0.05, -0.27],
]
lat_model_end = -0.30
lon_model = [
    [nan, 0.15, 0.19, 0.18], [0.14, 0.13, 0.17, 0.16], [0.12, 0.11, 0.15, 0.14],
    [0.10, 0.02, -0.08, 0.10], [0.08, 0.07, 0.12, 0.11], [0.06, 0.05, 0.10, 0.09],
    [0.04, 0.03, 0.08, 0.06], [0.10, 0.13, 0.08, 0.07], [0.03, 0.02, 0.08, 0.07],
    [0.01, 0.00, 0.06, 0.05], [0.00, -0.02, 0.04, 0.03], [-0.02, -0.03, 0.03, 0.02],
    [-0.04, -0.05, 0.01, 0.00], [-0.06, -0.07, -0.01, -0.02], [-0.08, -0.08, -0.02, -0.03],
    [-0.09, -0.10, -0.04, -0.05], [-0.11, -0.12, -0.06, -0.07], [-0.13, -0.14, -0.08, -0.09],
    [-0.15, -0.15, -0.09, -0.10], [-0.16, -0.17, -0.11, -0.12], [-0.18, -0.19, -0.14, -0.45],
]
lon_model_end = -0.48
# vertical: monthly 2004..2024 plus 2025.0
up_model = [
    [nan, nan, nan, -0.09, 0.07, 0.25, 0.41, 0.49, 0.49, 0.39, 0.23, 0.05],
    [-0.11, -0.19, -0.19, -0.09, 0.07, 0.25, 0.41, 0.49, 0.49, 0.39, 0.23, 0.05],
    [-0.11, -0.19, -0.19, -0.09, 0.07, 0.25, 0.41, 0.49, 0.49, 0.39, 0.23, 0.05],
    [-0.11, -0.19, -0.19, -0.09, 0.07, 0.25, 0.41, 0.49, 0.49, 0.39, 0.23, 0.05],
    [-0.11, -0.19, -0.19, -0.09, 0.07, 0.25, 0.41, 0.49, 0.49, 0.39, 0.23, 0.05],
    [-0.11, -0.19, -0.19, -0.09, 0.07, 0.25, 0.41, 0.49, 0.49, 0.39, 0.23, 0.05],
    [-0.11, -0.19, -0.19, -0.09, 0.07, 0.25, 0.41, 0.49, 0.49, 0.39, 0.23, 0.05],
    [-0.32, -0.41, -0.40, -0.30, -0.13, 0.07, 0.24, 0.33, 0.32, 0.22, 0.05, -0.15],
    [-0.32, -0.41, -0.40, -0.30, -0.13, 0.07, 0.24, 0.33, 0.32, 0.22, 0.05, -0.15],
    [-0.32, -0.41, -0.40, -0.30, -0.13, 0.07, 0.24, 0.33, 0.32, 0.22, 0.05, -0.15],
    [-0.32, -0.41, -0.40, -0.30, -0.13, 0.07, 0.24, 0.33, 0.32, 0.22, 0.05, -0.15],
    [-0.32, -0.41, -0.40, -0.30, -0.13, 0.07, 0.24, 0.33, 0.32, 0.22, 0.05, -0.15],
    [-0.32, -0.41, -0.40, -0.30, -0.13, 0.07, 0.24, 0.33, 0.32, 0.22, 0.05, -0.15],
    [-0.32, -0.41, -0.40, -0.30, -0.13, 0.07, 0.24, 0.33, 0.32, 0.22, 0.05, -0.15],
    [-0.32, -0.41, -0.40, -0.30, -0.13, 0.07, 0.24, 0.33, 0.32, 0.22, 0.05, -0.15],
    [-0.32, -0.41, -0.40, -0.30, -0.13, 0.07, 0.24, 0.33, 0.32, 0.22, 0.05, -0.15],
    [-0.32, -0.41, -0.40, -0.30, -0.13, 0.07, 0.24, 0.33, 0.32, 0.22, 0.05, -0.15],
    [-0.32, -0.41, -0.40, -0.30, -0.13, 0.07, 0.24, 0.33, 0.32, 0.22, 0.05, -0.15],
    [-0.32, -0.41, -0.40, -0.30, -0.13, 0.07, 0.24, 0.33, 0.32, 0.22, 0.05, -0.15],
    [-0.32, -0.41, -0.40, -0.30, -0.13, 0.07, 0.24, 0.33, 0.32, 0.22, 0.05, -0.15],
    [-0.32, -0.41, -0.40, -0.30, -0.13, 0.07, 0.24, 0.33, 0.48, 0.38, 0.21, 0.01],
]
up_model_end = -0.16

# piecewise trend (blue) with offsets at the breaks; linear trend (green)
trend_t = [2004.25, 2011.0, 2011.0, 2024.62, 2024.62, 2025.0]
lat_trend = [0.13, 0.13, -0.07, -0.07, -0.28, -0.28]
lon_trend = [0.17, 0.05, 0.07, -0.17, -0.45, -0.46]
up_trend = [0.15, 0.15, 0.00, -0.03, 0.10, 0.10]
green_t = [2004.25, 2025.0]
lat_green = [0.17, 0.17]
lon_green = [0.17, -0.19]
up_green = [0.10, -0.10]

breaks = [2011.0, 2024.62]
trend_txt = ["trend = 0.01 \u00b1 0.04 mm/yr",
             "trend = \u22120.17 \u00b1 0.04 mm/yr",
             "trend = \u22120.10 \u00b1 0.17 mm/yr"]
wrms_txt = ["wrms = 1.197 mm", "wrms = 1.196 mm", "wrms = 5.207 mm"]
ylabels = ["latitude (cm)", "longitude (cm)", "vertical (cm)"]
ylims_data = [(-3, 3), (-3, 3), (-5, 5)]
xticks = [2004, 2007, 2010, 2013, 2016, 2019, 2022, 2025]

# ---------------- figure ----------------
W, H = 1118, 691
fig = plt.figure(figsize=(W / 100, H / 100), dpi=100)

RED_BRK = '#d8504a'
RED_MOD = '#c81538'
BLUE = '#2233b0'
GREEN = '#66dd66'
TXT = '#2a2a8c'
GREY = '#b8b8b8'

def ax_at(x0, x1, ytop, ybot):
    return fig.add_axes([x0 / W, 1 - ybot / H, (x1 - x0) / W, (ybot - ytop) / H])

def style(ax, ylim, yminor, ylabel):
    ax.set_xlim(2004, 2025)
    ax.set_ylim(*ylim)
    ax.set_xticks(xticks)
    ax.set_xticklabels([str(v) for v in xticks])
    ax.xaxis.set_minor_locator(MultipleLocator(1 / 12))
    ax.yaxis.set_major_locator(MultipleLocator(1))
    ax.yaxis.set_minor_locator(MultipleLocator(yminor))
    ax.tick_params(which='major', direction='out', length=5, width=0.9,
                   top=True, right=True, labelsize=10.5, pad=2)
    ax.tick_params(which='minor', direction='out', length=2.5, width=0.5,
                   top=True, right=True)
    for s in ax.spines.values():
        s.set_linewidth(1.8)
    ax.set_ylabel(ylabel, fontsize=10.5, fontweight='bold')
    ax.yaxis.set_label_coords(-0.098, 0.5)

def monthly(rows, offset=0.5):
    v = np.array(rows, dtype=float).ravel()
    t = 2004 + (np.arange(v.size) + offset) / 12
    m = ~np.isnan(v)
    return t[m], v[m]

def points(ax, t, v, sig):
    ax.errorbar(t, v, yerr=sig, fmt='none', ecolor=GREY, elinewidth=0.6,
                capsize=2.8, capthick=0.6, zorder=2)
    ax.plot(t, v, 'o', color='black', ms=2.3, mec='none', zorder=4)

rows_top = [50, 271, 492]
rows_bot = [209, 430, 651]
data_sets = [[lat_data, lat_data_b], [lon_data, lon_data_b], [up_data, up_data_b]]
res_sets = [[lat_res, lat_res_b], [lon_res, lon_res_b], [up_res, up_res_b]]
sigs = [sig_lat, sig_lon, sig_up]
models = [(lat_model, lat_model_end, 'q'), (lon_model, lon_model_end, 'q'),
          (up_model, up_model_end, 'm')]
trends = [lat_trend, lon_trend, up_trend]
greens = [lat_green, lon_green, up_green]
offsets = [0.5, 0.0]

for i in range(3):
    # ----- left: data panel -----
    ax = ax_at(69, 543, rows_top[i], rows_bot[i])
    style(ax, ylims_data[i], 0.1 if i < 2 else 0.2, ylabels[i])
    for k, rows in enumerate(data_sets[i]):
        t, v = monthly(rows, offsets[k])
        points(ax, t, v, sigs[i])
    if i == 2:
        points(ax, np.array(up_out_t), np.array(up_out_data), 0.4)
    ax.plot(green_t, greens[i], color=GREEN, lw=1.2, zorder=3)
    mrows, mend, kind = models[i]
    mv = np.append(np.array(mrows, dtype=float).ravel(), mend)
    mt = 2004 + np.arange(mv.size) / (4 if kind == 'q' else 12)
    ok = ~np.isnan(mv)
    ax.plot(trend_t, trends[i], color=BLUE, lw=1.3, zorder=5)
    ax.plot(mt[ok], mv[ok], color=RED_MOD, lw=1.0, zorder=6)
    for b in breaks:
        ax.axvline(b, color=RED_BRK, lw=1.2, zorder=7)
    ax.text(0.994, 0.03, trend_txt[i], transform=ax.transAxes, ha='right',
            va='bottom', color=TXT, fontsize=9.8, zorder=8)
    if i == 2:
        ax.set_xlabel('year', fontsize=10.5, fontweight='bold', labelpad=0)
    if i == 0:
        ax.set_title('site VRAP', fontsize=12.5, fontweight='bold', pad=20)

    # ----- right: residual panel -----
    ax = ax_at(625, 1101, rows_top[i], rows_bot[i])
    style(ax, (-2, 2), 0.1, ylabels[i])
    ax.axhline(0, color=GREEN, lw=1.8, zorder=3)
    for k, rows in enumerate(res_sets[i]):
        t, v = monthly(rows, offsets[k])
        points(ax, t, v, sigs[i])
    if i == 2:
        points(ax, np.array(up_out_t), np.array(up_out_res), 0.4)
    for b in breaks:
        ax.axvline(b, color=RED_BRK, lw=1.2, zorder=7)
    ax.text(0.994, 0.03, wrms_txt[i], transform=ax.transAxes, ha='right',
            va='bottom', color=TXT, fontsize=9.8, zorder=8)
    if i == 2:
        ax.set_xlabel('year', fontsize=10.5, fontweight='bold', labelpad=0)
    if i == 0:
        ax.set_title('Residuals site VRAP', fontsize=12.5, fontweight='bold', pad=20)

fig.savefig('out.png', dpi=100)
